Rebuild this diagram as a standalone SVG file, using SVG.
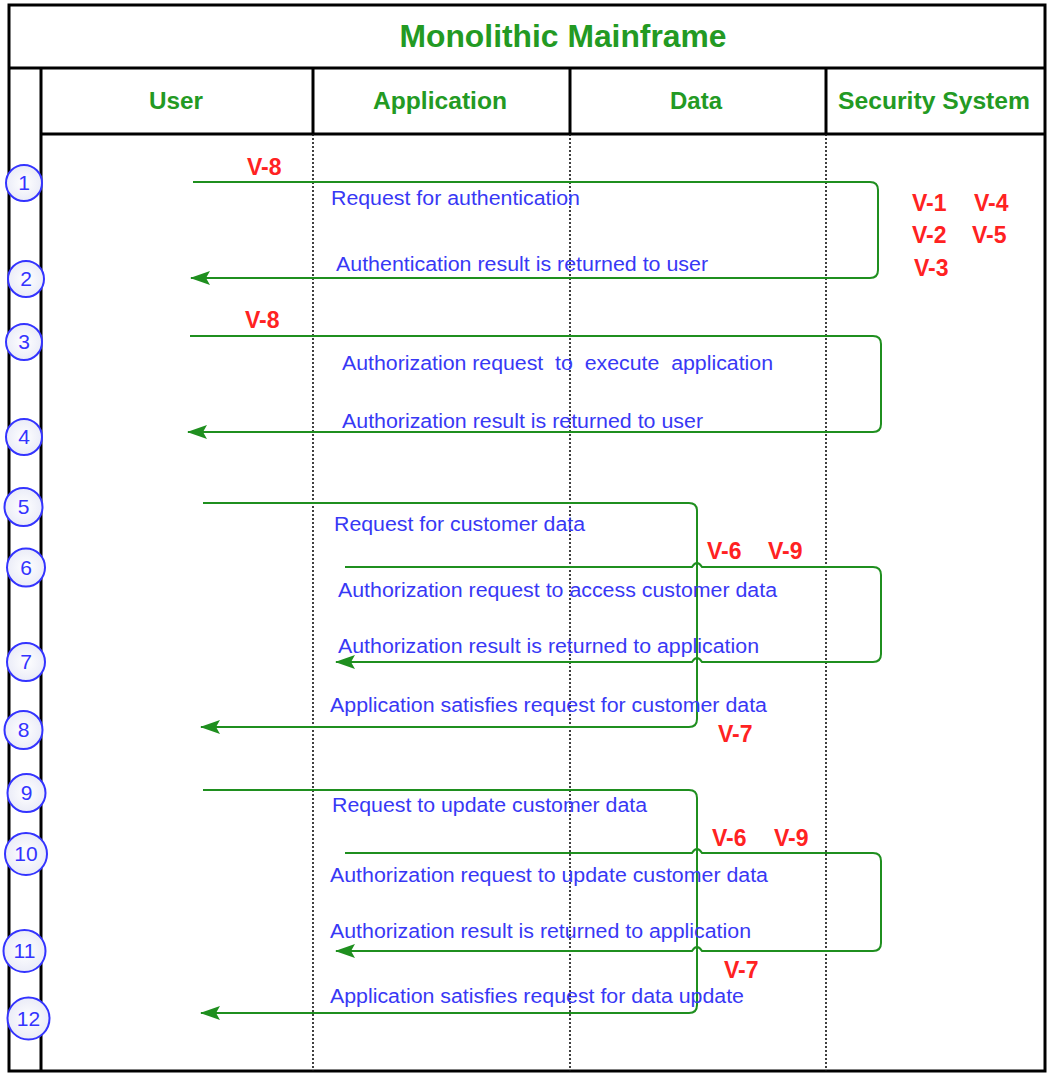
<svg xmlns="http://www.w3.org/2000/svg" width="1048" height="1073" viewBox="0 0 1048 1073">
<defs>
<style>
.frame{fill:none;stroke:#000;stroke-width:3}
.life{fill:none;stroke:#111;stroke-width:1.6;stroke-dasharray:2,2}
.hdr{font-family:"Liberation Sans",Arial,sans-serif;font-weight:bold;fill:#239a23;text-anchor:middle}
.lbl{font-family:"Liberation Sans",Arial,sans-serif;font-size:20px;fill:#3838f5}
.v{font-family:"Liberation Sans",Arial,sans-serif;font-size:23px;font-weight:bold;fill:#ff2222}
.flow{fill:none;stroke:#1f8f1f;stroke-width:2}
.step circle{fill:url(#cg);stroke:#3434ff;stroke-width:2}
.step text{font-family:"Liberation Sans",Arial,sans-serif;font-size:21px;fill:#3434ff;text-anchor:middle}
</style>
<radialGradient id="cg" cx="0.5" cy="0.5" r="0.6">
<stop offset="0" stop-color="#ffffff"/>
<stop offset="1" stop-color="#e6e8f6"/>
</radialGradient>
<marker id="arr" markerUnits="userSpaceOnUse" markerWidth="22" markerHeight="16" refX="20" refY="8" orient="auto">
<path d="M21,8 L1,1 L5,8 L1,15 Z" fill="#1f8f1f"/>
</marker>
</defs>
<rect width="1048" height="1073" fill="#fff"/>
<g id="frame">
<rect class="frame" x="9" y="5" width="1036" height="1066"/>
<line class="frame" x1="9" y1="68" x2="1045" y2="68"/>
<line class="frame" x1="41" y1="68" x2="41" y2="1071"/>
<line class="frame" x1="41" y1="134" x2="1045" y2="134"/>
<line class="frame" x1="313" y1="68" x2="313" y2="134"/>
<line class="frame" x1="570" y1="68" x2="570" y2="134"/>
<line class="frame" x1="826" y1="68" x2="826" y2="134"/>
<text class="hdr" x="563" y="47" font-size="32" textLength="327" lengthAdjust="spacingAndGlyphs">Monolithic Mainframe</text>
</g>
<g id="lifelines">
<line class="life" x1="313" y1="134" x2="313" y2="1071"/>
<line class="life" x1="570" y1="134" x2="570" y2="1071"/>
<line class="life" x1="826" y1="134" x2="826" y2="1071"/>
</g>
<g id="lane-user"><text class="hdr" x="176" y="109" font-size="23" textLength="54" lengthAdjust="spacingAndGlyphs">User</text></g>
<g id="lane-application"><text class="hdr" x="440" y="109" font-size="23" textLength="134" lengthAdjust="spacingAndGlyphs">Application</text></g>
<g id="lane-data"><text class="hdr" x="696" y="109" font-size="23" textLength="52" lengthAdjust="spacingAndGlyphs">Data</text></g>
<g id="lane-security"><text class="hdr" x="934" y="109" font-size="23" textLength="192" lengthAdjust="spacingAndGlyphs">Security System</text></g>
<g id="connectors">
<path class="flow" marker-end="url(#arr)" d="M193,182 H870 Q878,182 878,190 V270 Q878,278 870,278 H191"/>
<path class="flow" marker-end="url(#arr)" d="M190,336 H873 Q881,336 881,344 V424 Q881,432 873,432 H188"/>
<path class="flow" marker-end="url(#arr)" d="M203,503 H689 Q697,503 697,511 V719 Q697,727 689,727 H201"/>
<path class="flow" marker-end="url(#arr)" d="M345,567 H692 Q697,559 702,567 H873 Q881,567 881,575 V654 Q881,662 873,662 H702 Q697,654 692,662 H336"/>
<path class="flow" marker-end="url(#arr)" d="M203,790 H689 Q697,790 697,798 V1005 Q697,1013 689,1013 H201"/>
<path class="flow" marker-end="url(#arr)" d="M345,853 H692 Q697,845 702,853 H873 Q881,853 881,861 V943 Q881,951 873,951 H702 Q697,943 692,951 H336"/>
</g>
<g id="labels">
<text class="lbl" x="331" y="205" textLength="249" lengthAdjust="spacingAndGlyphs">Request for authentication</text>
<text class="lbl" x="336" y="271" textLength="372" lengthAdjust="spacingAndGlyphs">Authentication result is returned to user</text>
<text class="lbl" x="342" y="370" textLength="431" lengthAdjust="spacingAndGlyphs" xml:space="preserve">Authorization request  to  execute  application</text>
<text class="lbl" x="342" y="428" textLength="361" lengthAdjust="spacingAndGlyphs">Authorization result is returned to user</text>
<text class="lbl" x="334" y="531" textLength="251" lengthAdjust="spacingAndGlyphs">Request for customer data</text>
<text class="lbl" x="338" y="597" textLength="439" lengthAdjust="spacingAndGlyphs">Authorization request to access customer data</text>
<text class="lbl" x="338" y="653" textLength="421" lengthAdjust="spacingAndGlyphs">Authorization result is returned to application</text>
<text class="lbl" x="330" y="712" textLength="437" lengthAdjust="spacingAndGlyphs">Application satisfies request for customer data</text>
<text class="lbl" x="332" y="812" textLength="315" lengthAdjust="spacingAndGlyphs">Request to update customer data</text>
<text class="lbl" x="330" y="882" textLength="438" lengthAdjust="spacingAndGlyphs">Authorization request to update customer data</text>
<text class="lbl" x="330" y="938" textLength="421" lengthAdjust="spacingAndGlyphs">Authorization result is returned to application</text>
<text class="lbl" x="330" y="1003" textLength="414" lengthAdjust="spacingAndGlyphs">Application satisfies request for data update</text>
</g>
<g id="vulnerabilities">
<text class="v" x="247" y="175">V-8</text>
<text class="v" x="245" y="328">V-8</text>
<text class="v" x="912" y="211">V-1</text>
<text class="v" x="974" y="211">V-4</text>
<text class="v" x="912" y="243">V-2</text>
<text class="v" x="972" y="243">V-5</text>
<text class="v" x="914" y="276">V-3</text>
<text class="v" x="707" y="559">V-6</text>
<text class="v" x="768" y="559">V-9</text>
<text class="v" x="718" y="742">V-7</text>
<text class="v" x="712" y="846">V-6</text>
<text class="v" x="774" y="846">V-9</text>
<text class="v" x="724" y="978">V-7</text>
</g>
<g id="step-1" class="step"><circle cx="24" cy="183" r="18"/><text x="24" y="190">1</text></g>
<g id="step-2" class="step"><circle cx="26" cy="279" r="18"/><text x="26" y="286">2</text></g>
<g id="step-3" class="step"><circle cx="24" cy="342" r="18"/><text x="24" y="349">3</text></g>
<g id="step-4" class="step"><circle cx="24" cy="437" r="18"/><text x="24" y="444">4</text></g>
<g id="step-5" class="step"><circle cx="23.5" cy="507" r="19"/><text x="23.5" y="514">5</text></g>
<g id="step-6" class="step"><circle cx="26" cy="567.5" r="19"/><text x="26" y="574.5">6</text></g>
<g id="step-7" class="step"><circle cx="26" cy="662" r="19"/><text x="26" y="669">7</text></g>
<g id="step-8" class="step"><circle cx="23.5" cy="730" r="19"/><text x="23.5" y="737">8</text></g>
<g id="step-9" class="step"><circle cx="26.5" cy="793" r="19"/><text x="26.5" y="800">9</text></g>
<g id="step-10" class="step"><circle cx="26" cy="854" r="21"/><text x="26" y="861">10</text></g>
<g id="step-11" class="step"><circle cx="24.5" cy="951" r="21"/><text x="24.5" y="958">11</text></g>
<g id="step-12" class="step"><circle cx="28.5" cy="1018.5" r="21"/><text x="28.5" y="1025.5">12</text></g>
</svg>
